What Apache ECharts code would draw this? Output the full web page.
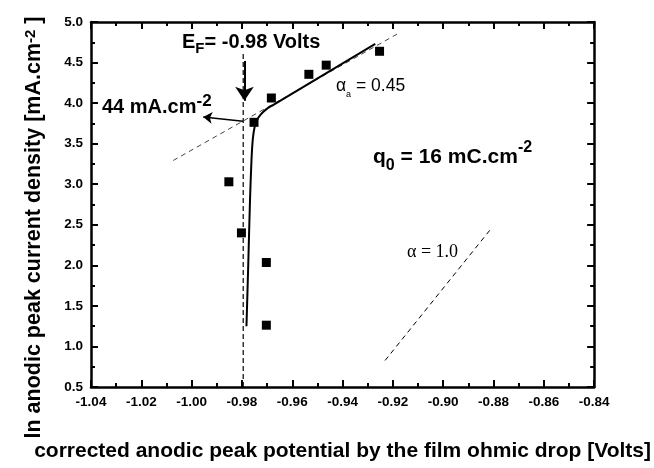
<!DOCTYPE html>
<html><head><meta charset="utf-8">
<script src="https://cdn.jsdelivr.net/npm/echarts@6/dist/echarts.min.js"></script>
<style>html,body{margin:0;padding:0;background:#fff}#c{width:654px;height:468px}</style>
</head><body><div id="c"></div>
<script>
// measured points
const pointX = [-0.9852, -0.9802, -0.9752, -0.9683, -0.9534, -0.9465, -0.9253, -0.9703, -0.9703];
const pointY = [3.03, 2.40, 3.763, 4.063, 4.355, 4.468, 4.639, 2.035, 1.262];
// fitted solid curve
const curveX = [-0.9782, -0.9775, -0.9768, -0.9762, -0.9757, -0.9750, -0.9740, -0.9725, -0.9705, -0.9680, -0.9270];
const curveY = [1.25, 2.0, 2.8, 3.3, 3.55, 3.70, 3.79, 3.86, 3.92, 3.97, 4.73];
// dashed Tafel extension
const tafelX = [-1.0073, -0.9177];
const tafelY = [3.293, 4.862];
// vertical E_F line
const efX = [-0.9795, -0.9795];
const efY = [0.5, 4.62];
// alpha = 1.0 reference line
const alphaX = [-0.9231, -0.8805];
const alphaY = [0.827, 2.47];
// arrows
const arrowDown = [[-0.979, 4.52], [-0.979, 4.03]];
const arrowLeft = [[-0.9796, 3.775], [-0.9954, 3.83]];
const xTicks = {min: -1.04, max: -0.84, interval: 0.02};
const yTicks = {min: 0.5, max: 5.0, interval: 0.5};

const zip = (a, b) => a.map((v, i) => [v, b[i]]);
const FONT = 'Liberation Sans, Arial, sans-serif';
const SERIF = 'Liberation Serif, Times New Roman, serif';
const chart = echarts.init(document.getElementById('c'));

const axisCommon = {
  axisLine: {show: true, onZero: false, lineStyle: {color: '#000', width: 2.5}},
  axisTick: {show: true, inside: true, length: 7, lineStyle: {color: '#000', width: 2}},
  minorTick: {show: true, splitNumber: 2, length: 4, lineStyle: {color: '#000', width: 2}},
  splitLine: {show: false}
};
const labelStyle = {color: '#000', fontWeight: 'bold', fontSize: 13.5, fontFamily: FONT, margin: 8};
const B = (fs, extra) => Object.assign({fontSize: fs, fontWeight: 'bold', fontFamily: FONT, color: '#000'}, extra);
const N = (fs, fam, extra) => Object.assign({fontSize: fs, fontWeight: 'normal', fontFamily: fam, color: '#000'}, extra);

chart.setOption({
  animation: false,
  grid: {left: 91, top: 22, right: 59, bottom: 76.5},
  title: [
    {left: 182, top: 32, padding: 0, text: '{b|E}{s|F}{b|= -0.98 Volts}',
      textStyle: {rich: {b: B(20, {lineHeight: 24, verticalAlign: 'top'}), s: B(15, {lineHeight: 14, verticalAlign: 'bottom'})}}},
    {left: 102, top: 93, padding: 0, text: '{b|44 mA.cm}{s|-2}',
      textStyle: {rich: {b: B(20, {lineHeight: 24, verticalAlign: 'bottom'}), s: B(17, {lineHeight: 16, verticalAlign: 'top'})}}},
    {left: 336, top: 77, padding: 0, text: '{a|α}{s|a}{a| = 0.45}',
      textStyle: {rich: {a: N(17.5, FONT, {lineHeight: 22, verticalAlign: 'top'}),
        s: N(9, FONT, {lineHeight: 9, padding: [16, 0, 0, 0], verticalAlign: 'bottom'})}}},
    {left: 373, top: 140, padding: 0, text: '{b|q}{s|0}{b| = 16 mC.cm}{p|-2}',
      textStyle: {rich: {b: B(21, {lineHeight: 34, verticalAlign: 'middle'}), s: B(16, {lineHeight: 25, verticalAlign: 'bottom'}),
        p: B(16, {lineHeight: 16, verticalAlign: 'top'})}}},
    {left: 407, top: 241.5, padding: 0, text: '{r|α = 1.0}',
      textStyle: {rich: {r: N(18, SERIF, {lineHeight: 22})}}}
  ],
  xAxis: [
    Object.assign({type: 'value', position: 'bottom', min: xTicks.min, max: xTicks.max, interval: xTicks.interval,
      axisLabel: Object.assign({formatter: v => v.toFixed(2)}, labelStyle),
      name: 'corrected anodic peak potential by the film ohmic drop [Volts]',
      nameLocation: 'middle', nameGap: 52,
      nameTextStyle: B(21, {lineHeight: 24})}, axisCommon),
    Object.assign({type: 'value', position: 'top', min: xTicks.min, max: xTicks.max, interval: xTicks.interval,
      axisLabel: {show: false}}, axisCommon)
  ],
  yAxis: [
    Object.assign({type: 'value', position: 'left', min: yTicks.min, max: yTicks.max, interval: yTicks.interval,
      axisLabel: Object.assign({formatter: v => v.toFixed(1)}, labelStyle),
      name: '{t|ln anodic peak current density [mA.cm}{s|-2}{t| ]}',
      nameLocation: 'middle', nameGap: 44, nameRotate: 90,
      nameTextStyle: {padding: [0, 46, 0, 0], rich: {
        t: B(21.5, {lineHeight: 22, verticalAlign: 'middle'}),
        s: B(15, {lineHeight: 15, padding: [0, 0, 15, 0], verticalAlign: 'top'})
      }}}, axisCommon),
    Object.assign({type: 'value', position: 'right', min: yTicks.min, max: yTicks.max, interval: yTicks.interval,
      axisLabel: {show: false}}, axisCommon)
  ],
  series: [
    {type: 'line', data: zip(tafelX, tafelY), symbol: 'none', lineStyle: {color: '#444', width: 1, type: [5, 4]}},
    {type: 'line', data: zip(efX, efY), symbol: 'none', lineStyle: {color: '#000', width: 1.2, type: [5, 3]}},
    {type: 'line', data: zip(alphaX, alphaY), symbol: 'none', lineStyle: {color: '#000', width: 1, type: [5, 4]}},
    {type: 'line', data: zip(curveX, curveY), symbol: 'none', smooth: 0.3, lineStyle: {color: '#000', width: 2}},
    {type: 'scatter', data: zip(pointX, pointY), symbol: 'rect', symbolSize: 9, itemStyle: {color: '#000', opacity: 1}},
    {type: 'lines', coordinateSystem: 'cartesian2d', symbol: ['none', 'arrow'], symbolSize: [1, 14],
      lineStyle: {color: '#000', width: 2, opacity: 1}, data: [{coords: arrowDown}]},
    {type: 'lines', coordinateSystem: 'cartesian2d', symbol: ['none', 'arrow'], symbolSize: [1, 9],
      lineStyle: {color: '#000', width: 1.5, opacity: 1}, data: [{coords: arrowLeft}]}
  ]
});
</script></body></html>
